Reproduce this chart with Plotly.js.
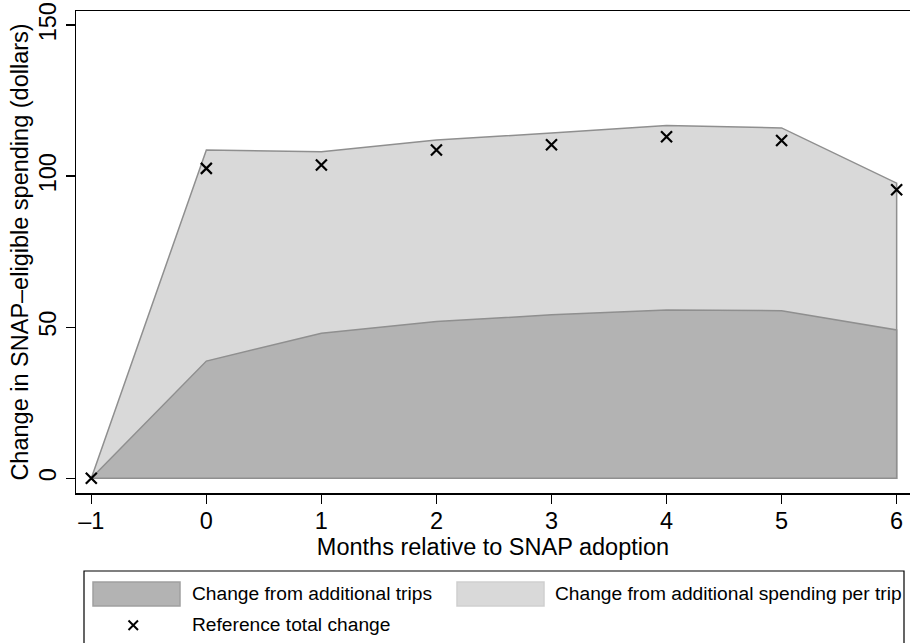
<!DOCTYPE html>
<html>
<head>
<meta charset="utf-8">
<script src="https://cdn.plot.ly/plotly-3.0.1.min.js"></script>
<style>html,body{margin:0;padding:0;background:#fff;}#chart{width:910px;height:643px;}</style>
</head>
<body>
<div id="chart"></div>
<script>
// ---- data ----
const months = [-1, 0, 1, 2, 3, 4, 5, 6];
const tripsChange = [0, 38.8, 48.0, 51.9, 54.1, 55.7, 55.5, 49.1];
const totalChange = [0, 108.7, 108.1, 112.0, 114.3, 116.8, 116.0, 97.7];
const referenceTotal = [0, 102.6, 103.7, 108.7, 110.4, 113.1, 111.8, 95.5];
const xTicks = [-1, 0, 1, 2, 3, 4, 5, 6];
const yTicks = [0, 50, 100, 150];
const labels = {
  trips: "Change from additional trips",
  perTrip: "Change from additional spending per trip",
  reference: "Reference total change",
  xTitle: "Months relative to SNAP adoption",
  yTitle: "Change in SNAP\u2013eligible spending (dollars)"
};

const FONT = "Liberation Sans, Arial, Helvetica, sans-serif";
const DARK = "#b3b3b3", LIGHT = "#d9d9d9", EDGE = "#8f8f8f";

// polygons built from the data
const zeros = months.map(() => 0);
const polyX = months.concat(months.slice().reverse());
const lightY = totalChange.concat(zeros.slice().reverse());
const darkY = tripsChange.concat(zeros.slice().reverse());

const traces = [
  {x: polyX, y: lightY, type: "scatter", mode: "lines", fill: "toself",
   fillcolor: LIGHT, line: {color: EDGE, width: 1.5}, name: labels.perTrip, hoverinfo: "skip"},
  {x: polyX, y: darkY, type: "scatter", mode: "lines", fill: "toself",
   fillcolor: DARK, line: {color: EDGE, width: 1.5}, name: labels.trips, hoverinfo: "skip"},
  {x: months, y: referenceTotal, type: "scatter", mode: "markers", name: labels.reference,
   marker: {symbol: "x-thin-open", size: 11, color: "#000", line: {color: "#000", width: 2.2}}}
];

// plot area pixel geometry (for legend placement)
const L = 76, T = 11, W = 834, H = 482;
const px = x => (x - L) / W;
const py = y => (T + H - y) / H;

const shapes = [
  {type: "rect", xref: "paper", yref: "paper", x0: px(84), x1: px(904), y0: py(571), y1: py(700),
   line: {color: "#000", width: 1.2}, fillcolor: "rgba(0,0,0,0)"},
  {type: "rect", xref: "paper", yref: "paper", x0: px(93), x1: px(180), y0: py(582), y1: py(606),
   line: {color: "#a0a0a0", width: 1.5}, fillcolor: DARK},
  {type: "rect", xref: "paper", yref: "paper", x0: px(457), x1: px(544), y0: py(582), y1: py(606),
   line: {color: "#cfcfcf", width: 1.5}, fillcolor: LIGHT},
  {type: "line", xref: "paper", yref: "paper", x0: px(128.5), x1: px(138), y0: py(620.5), y1: py(630),
   line: {color: "#000", width: 2}},
  {type: "line", xref: "paper", yref: "paper", x0: px(128.5), x1: px(138), y0: py(630), y1: py(620.5),
   line: {color: "#000", width: 2}}
];

const annFont = {family: FONT, size: 19.2, color: "#000"};
const annotations = [
  {xref: "paper", yref: "paper", x: px(190), y: py(593), text: labels.trips, showarrow: false,
   xanchor: "left", yanchor: "middle", font: annFont},
  {xref: "paper", yref: "paper", x: px(553), y: py(593), text: labels.perTrip, showarrow: false,
   xanchor: "left", yanchor: "middle", font: annFont},
  {xref: "paper", yref: "paper", x: px(190), y: py(624), text: labels.reference, showarrow: false,
   xanchor: "left", yanchor: "middle", font: annFont}
];

const TF = {family: FONT, size: 23.5, color: "#000"};
const layout = {
  width: 910, height: 643,
  margin: {l: L, r: 0, t: T, b: 643 - T - H},
  paper_bgcolor: "#fff", plot_bgcolor: "#fff",
  showlegend: false,
  font: TF,
  xaxis: {
    range: [-1.133, 6.116], tickvals: xTicks, ticktext: xTicks.map(v => v < 0 ? "\u2013" + Math.abs(v) : String(v)),
    showline: true, mirror: true, linecolor: "#000", linewidth: 1.5,
    ticks: "outside", ticklen: 9, tickwidth: 1.5, tickcolor: "#000",
    showgrid: false, zeroline: false, ticklabelstandoff: -3,
    tickfont: TF,
    title: {text: labels.xTitle, font: TF, standoff: 0}
  },
  yaxis: {
    range: [-4.87, 154.7], tickvals: yTicks, tickangle: -90,
    showline: true, linecolor: "#000", linewidth: 1.5,
    ticks: "outside", ticklen: 9, tickwidth: 1.5, tickcolor: "#000",
    showgrid: false, zeroline: false,
    tickfont: TF,
    title: {text: labels.yTitle, font: TF, standoff: 0}
  },
  shapes: shapes,
  annotations: annotations
};

Plotly.newPlot("chart", traces, layout, {displayModeBar: false, staticPlot: true});
</script>
</body>
</html>
